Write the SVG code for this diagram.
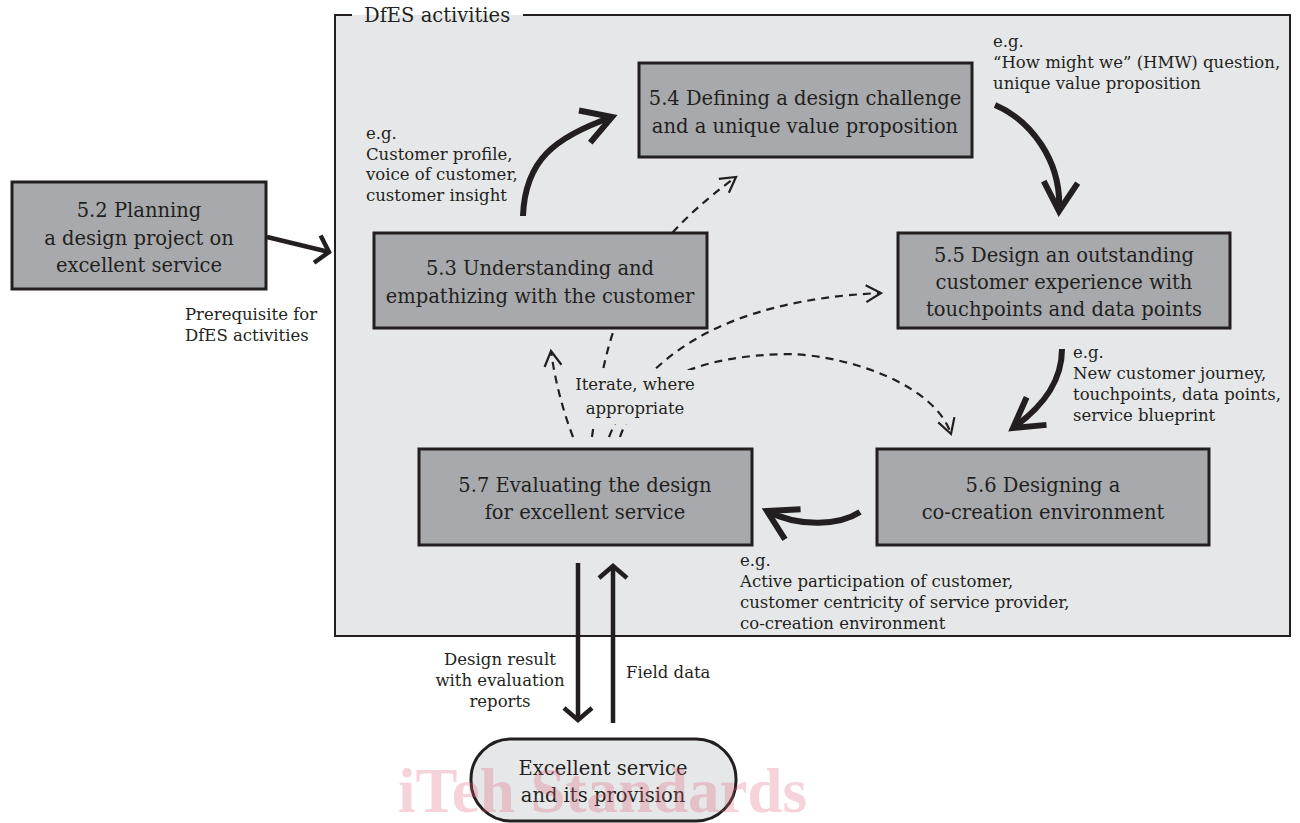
<svg xmlns="http://www.w3.org/2000/svg" width="1300" height="823" viewBox="0 0 1300 823">
<defs>
<style>
.frame{fill:#e6e7e8;}
.frameline{fill:none;stroke:#231f20;stroke-width:2;}
.box{fill:#a7a9ac;stroke:#231f20;stroke-width:3;}
.oval{fill:#e6e7e8;stroke:#231f20;stroke-width:3;}
.nt{font-family:"DejaVu Serif","Liberation Serif",serif;font-size:19.5px;fill:#231f20;text-anchor:middle;}
.lb{font-family:"DejaVu Serif","Liberation Serif",serif;font-size:16.5px;fill:#231f20;}
.ttl{font-family:"DejaVu Serif","Liberation Serif",serif;font-size:19.5px;fill:#231f20;}
.thick{fill:none;stroke:#231f20;stroke-width:6;stroke-linecap:butt;}
.med{fill:none;stroke:#231f20;stroke-width:4.5;}
.dash{fill:none;stroke:#231f20;stroke-width:2.2;stroke-dasharray:8 6;}
.hd{fill:none;stroke:#231f20;stroke-linejoin:miter;stroke-dasharray:none;}
.wm{font-family:"Liberation Serif",serif;font-weight:bold;font-size:63px;fill:#e0607a;fill-opacity:0.28;}
</style>
<marker id="hThick" markerUnits="userSpaceOnUse" viewBox="-40 -25 50 50" markerWidth="50" markerHeight="50" refX="0" refY="0" orient="auto" overflow="visible">
<path class="hd" d="M-29,-17 L0,0 L-29,17" stroke-width="6"/>
</marker>
<marker id="hMed" markerUnits="userSpaceOnUse" viewBox="-30 -25 40 50" markerWidth="40" markerHeight="50" refX="0" refY="0" orient="auto" overflow="visible">
<path class="hd" d="M-12,-14 L0,0 L-12,14" stroke-width="4.5"/>
</marker>
<marker id="hDash" markerUnits="userSpaceOnUse" viewBox="-20 -12 25 24" markerWidth="25" markerHeight="24" refX="0" refY="0" orient="auto" overflow="visible">
<path class="hd" d="M-15,-8.5 L0,0 L-15,8.5" stroke-width="2.2"/>
</marker>
</defs>
<rect width="1300" height="823" fill="#ffffff"/>

<g id="dfes-frame">
<rect class="frame" x="335" y="15" width="955" height="621"/>
<path class="frameline" d="M352,15 L335,15 L335,636 L1290,636 L1290,15 L523,15"/>
<text class="ttl" x="364" y="22">DfES activities</text>
</g>

<g id="connectors">
<path class="med" d="M267,237 L329,252" marker-end="url(#hMed)" stroke-width="5"/>
<path class="thick" d="M523,216 C525,160 555,137 612,117" marker-end="url(#hThick)"/>
<path class="thick" d="M995,105 C1030,120 1062,160 1059,211" marker-end="url(#hThick)"/>
<path class="thick" d="M1062,349 C1062,380 1045,405 1013,428" marker-end="url(#hThick)"/>
<path class="thick" d="M860,512 C840,525 800,528 767,511" marker-end="url(#hThick)"/>
<path class="med" d="M578,563 L578,720" marker-end="url(#hMed)"/>
<path class="med" d="M613,723 L613,566" marker-end="url(#hMed)"/>
<path class="dash" d="M573,437 Q557,395 551,351" marker-end="url(#hDash)"/>
<path class="dash" d="M592,437 C605,345 615,265 736,177" marker-end="url(#hDash)"/>
<path class="dash" d="M609,437 C640,360 720,300 881,293" marker-end="url(#hDash)"/>
<path class="dash" d="M620,437 C640,380 700,355 790,354 C850,356 935,385 951,434" marker-end="url(#hDash)"/>
<rect x="574" y="370" width="123" height="54" fill="#e6e7e8"/>
<text class="lb" x="635" y="390" text-anchor="middle">Iterate, where</text>
<text class="lb" x="635" y="414" text-anchor="middle">appropriate</text>
</g>

<g id="n52">
<rect class="box" x="12" y="182" width="254" height="107"/>
<text class="nt" x="139" y="217">5.2 Planning</text>
<text class="nt" x="139" y="245">a design project on</text>
<text class="nt" x="139" y="272">excellent service</text>
</g>
<g id="n53">
<rect class="box" x="374" y="233" width="333" height="95"/>
<text class="nt" x="540" y="275">5.3 Understanding and</text>
<text class="nt" x="540" y="303">empathizing with the customer</text>
</g>
<g id="n54">
<rect class="box" x="639" y="63" width="333" height="94"/>
<text class="nt" x="805" y="105">5.4 Defining a design challenge</text>
<text class="nt" x="805" y="133">and a unique value proposition</text>
</g>
<g id="n55">
<rect class="box" x="898" y="233" width="332" height="95"/>
<text class="nt" x="1064" y="262">5.5 Design an outstanding</text>
<text class="nt" x="1064" y="289">customer experience with</text>
<text class="nt" x="1064" y="316">touchpoints and data points</text>
</g>
<g id="n56">
<rect class="box" x="877" y="449" width="332" height="96"/>
<text class="nt" x="1043" y="492">5.6 Designing a</text>
<text class="nt" x="1043" y="519">co-creation environment</text>
</g>
<g id="n57">
<rect class="box" x="419" y="449" width="333" height="96"/>
<text class="nt" x="585" y="492">5.7 Evaluating the design</text>
<text class="nt" x="585" y="519">for excellent service</text>
</g>
<g id="nservice">
<rect class="oval" x="471" y="739" width="265" height="82" rx="40" ry="40"/>
<text class="nt" x="603" y="775">Excellent service</text>
<text class="nt" x="603" y="802">and its provision</text>
</g>

<g id="labels">
<text class="lb" x="366" y="139">e.g.</text>
<text class="lb" x="366" y="160">Customer profile,</text>
<text class="lb" x="366" y="180">voice of customer,</text>
<text class="lb" x="366" y="201">customer insight</text>
<text class="lb" x="993" y="47">e.g.</text>
<text class="lb" x="993" y="68">“How might we” (HMW) question,</text>
<text class="lb" x="993" y="89">unique value proposition</text>
<text class="lb" x="1073" y="358">e.g.</text>
<text class="lb" x="1073" y="379">New customer journey,</text>
<text class="lb" x="1073" y="400">touchpoints, data points,</text>
<text class="lb" x="1073" y="421">service blueprint</text>
<text class="lb" x="740" y="566">e.g.</text>
<text class="lb" x="740" y="587">Active participation of customer,</text>
<text class="lb" x="740" y="608">customer centricity of service provider,</text>
<text class="lb" x="740" y="629">co-creation environment</text>
<text class="lb" x="185" y="320">Prerequisite for</text>
<text class="lb" x="185" y="341">DfES activities</text>
<text class="lb" x="500" y="665" text-anchor="middle">Design result</text>
<text class="lb" x="500" y="686" text-anchor="middle">with evaluation</text>
<text class="lb" x="500" y="707" text-anchor="middle">reports</text>
<text class="lb" x="626" y="678">Field data</text>
</g>

<text class="wm" x="398" y="812">iTeh Standards</text>
</svg>
